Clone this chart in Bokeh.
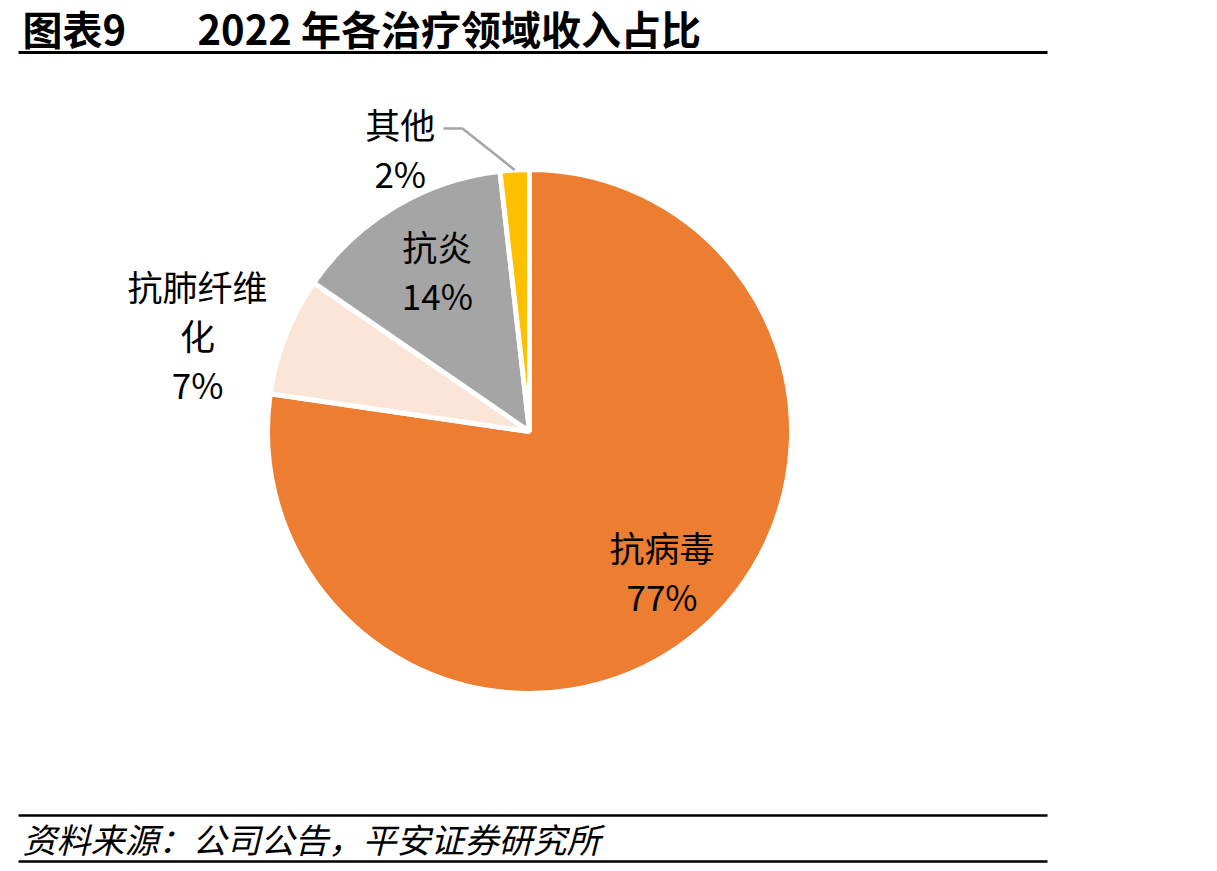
import numpy as np
from bokeh.plotting import figure
from bokeh.models import Range1d, ColumnDataSource
from bokeh.core.properties import value
from bokeh.embed import file_html
from bokeh.resources import INLINE

# ---- data ----
categories = ["抗病毒", "抗肺纤维化", "抗炎", "其他"]
label_lines = [["抗病毒"], ["抗肺纤维", "化"], ["抗炎"], ["其他"]]
values = [77.3, 7.3, 13.6, 1.8]
colors = ["#ED7D31", "#FBE5D6", "#A5A5A5", "#FFC000"]
title_left = "图表9"
title_right = "2022 年各治疗领域收入占比"
source_text = "资料来源：公司公告，平安证券研究所"

# ---- layout ----
W, H = 1217, 871
CX, CY, R = 529, 431, 262          # pixel coords (y down)
# label polar positions: clockwise angle from top (deg), radius factor
label_polar = [(136.5, 0.735), (286.3, 1.32), (330.3, 0.71), (335.5, 1.19)]
label_font = "Noto Sans CJK SC"
LABEL_SIZE = 35
LINE_GAP = 49

def py(y):
    return H - y

p = figure(width=W, height=H, x_range=Range1d(0, W), y_range=Range1d(0, H),
           output_backend="svg", toolbar_location=None, min_border=0)
p.axis.visible = False
p.grid.visible = False
p.outline_line_color = None
p.background_fill_color = "white"

vals = np.array(values, dtype=float)
frac = vals / vals.sum()
cum = np.concatenate([[0.0], np.cumsum(frac)])
a0 = cum[:-1] * 360.0
a1 = cum[1:] * 360.0
start = np.deg2rad(90.0 - a1)
end = np.deg2rad(90.0 - a0)

src = ColumnDataSource(dict(x=[CX] * len(vals), y=[py(CY)] * len(vals),
                            start=start, end=end, color=colors, cat=categories))
p.wedge(x="x", y="y", radius=R, start_angle="start", end_angle="end",
        fill_color="color", line_color="white", line_width=5, source=src)

# labels
pct = [f"{int(round(f * 100))}%" for f in frac]
tx, ty, tt = [], [], []
for i, (ang, rf) in enumerate(label_polar):
    th = np.deg2rad(ang)
    lx = CX + rf * R * np.sin(th)
    ly = CY - rf * R * np.cos(th)
    lines = label_lines[i] + [pct[i]]
    n = len(lines)
    for k, t in enumerate(lines):
        tx.append(lx)
        ty.append(py(ly + (k - (n - 1) / 2) * LINE_GAP))
        tt.append(t)
p.text(x=tx, y=ty, text=tt, text_font=value(label_font), text_font_size=f"{LABEL_SIZE}px",
       text_align="center", text_baseline="middle", text_color="#000000")

# leader line for small slice
mid = np.deg2rad((a0[3] + a1[3]) / 2)
ex = CX + R * np.sin(mid)
ey = CY - R * np.cos(mid)
p.line(x=[ex, 462, 443], y=[py(ey), py(128), py(128)], line_color="#A5A5A5", line_width=2.5)

# title
p.text(x=[22], y=[py(27)], text=[title_left], text_font=value(label_font),
       text_font_size="40px", text_font_style="bold", text_baseline="middle", text_align="left")
p.text(x=[197], y=[py(27)], text=[title_right], text_font=value(label_font),
       text_font_size="40px", text_font_style="bold", text_baseline="middle", text_align="left")
p.line(x=[18, 1047], y=[py(52), py(52)], line_color="black", line_width=3)

# footer
p.line(x=[18, 1047], y=[py(815), py(815)], line_color="black", line_width=2.5)
p.line(x=[18, 1047], y=[py(861), py(861)], line_color="black", line_width=2.5)
p.text(x=[22], y=[py(838)], text=[source_text], text_font=value(label_font),
       text_font_size="34px", text_font_style="italic", text_baseline="middle", text_align="left")

open("out.html", "w").write(file_html(p, INLINE))
